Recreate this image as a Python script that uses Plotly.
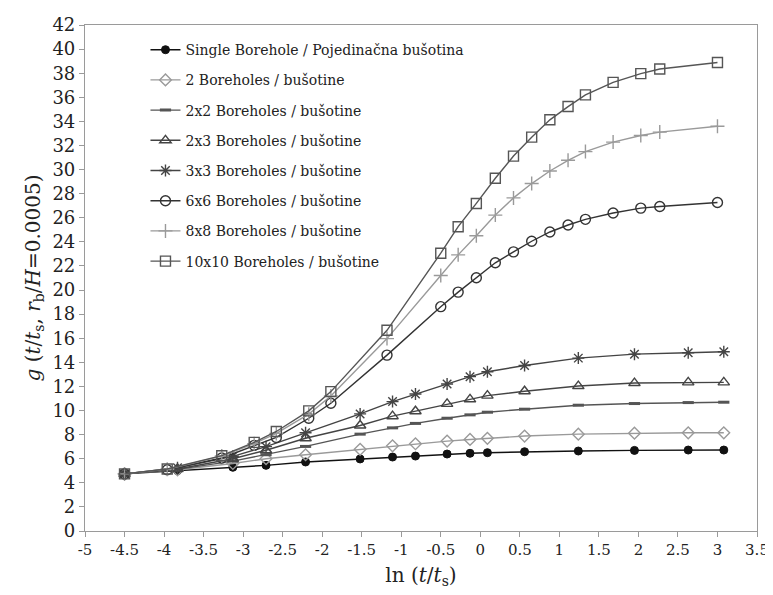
import plotly.graph_objects as go

# x values (ln(t/ts)) for the smaller fields
x_small = [-4.5, -3.83, -3.13, -2.71, -2.21, -1.52, -1.11, -0.82, -0.42, -0.13, 0.09, 0.56, 1.24, 1.95, 2.63, 3.08]
# x values for the larger fields
x_large = [-4.5, -3.96, -3.27, -2.86, -2.58, -2.17, -1.89, -1.18, -0.5, -0.28, -0.05, 0.19, 0.42, 0.65, 0.88, 1.11, 1.33, 1.68, 2.03, 2.27, 3.0]

g_single = [4.74, 5.01, 5.29, 5.45, 5.73, 5.98, 6.14, 6.22, 6.39, 6.45, 6.50, 6.58, 6.64, 6.69, 6.72, 6.72]
g_2 = [4.74, 5.08, 5.60, 6.00, 6.33, 6.78, 7.07, 7.24, 7.46, 7.60, 7.69, 7.88, 8.04, 8.12, 8.15, 8.15]
g_2x2 = [4.74, 5.12, 5.80, 6.33, 7.02, 8.04, 8.56, 8.93, 9.36, 9.64, 9.86, 10.11, 10.44, 10.58, 10.66, 10.69]
g_2x3 = [4.74, 5.15, 6.00, 6.70, 7.70, 8.76, 9.53, 9.94, 10.55, 10.93, 11.24, 11.60, 12.03, 12.28, 12.34, 12.34]
g_3x3 = [4.74, 5.25, 6.20, 7.00, 8.15, 9.72, 10.74, 11.37, 12.20, 12.81, 13.22, 13.74, 14.35, 14.68, 14.79, 14.88]
g_6x6 = [4.74, 5.09, 6.06, 7.11, 7.77, 9.36, 10.60, 14.60, 18.62, 19.83, 21.02, 22.26, 23.17, 24.05, 24.82, 25.40, 25.87, 26.39, 26.80, 26.94, 27.27]
g_8x8 = [4.74, 5.12, 6.22, 7.25, 8.10, 9.70, 11.20, 15.97, 21.21, 22.92, 24.51, 26.22, 27.65, 28.84, 29.88, 30.77, 31.49, 32.28, 32.83, 33.11, 33.60]
g_10x10 = [4.74, 5.15, 6.25, 7.36, 8.26, 9.97, 11.57, 16.66, 23.06, 25.26, 27.19, 29.28, 31.12, 32.69, 34.13, 35.23, 36.20, 37.24, 37.96, 38.35, 38.89]

names = [
    "Single Borehole / Pojedinačna bušotina",
    "2 Boreholes / bušotine",
    "2x2 Boreholes / bušotine",
    "2x3 Boreholes / bušotine",
    "3x3 Boreholes / bušotine",
    "6x6 Boreholes / bušotine",
    "8x8 Boreholes / bušotine",
    "10x10 Boreholes / bušotine",
]

x_tick_vals = [-5, -4.5, -4, -3.5, -3, -2.5, -2, -1.5, -1, -0.5, 0, 0.5, 1, 1.5, 2, 2.5, 3, 3.5]
y_tick_vals = list(range(0, 43, 2))

# (x, y, line colour, marker symbol, marker size, marker line width)
series = [
    (x_small, g_single, "#111111", "circle", 8, 1),
    (x_small, g_2, "#9a9a9a", "diamond-open", 9, 1.4),
    (x_small, g_2x2, "#555555", "line-ew-open", 8, 3),
    (x_small, g_2x3, "#444444", "triangle-up-open", 10, 1.4),
    (x_small, g_3x3, "#444444", "asterisk-open", 10, 1.4),
    (x_large, g_6x6, "#333333", "circle-open", 10, 1.4),
    (x_large, g_8x8, "#9a9a9a", "cross-thin-open", 10, 1.4),
    (x_large, g_10x10, "#555555", "square-open", 10, 1.4),
]

fig = go.Figure()
for i, (xs, ys, col, sym, size, mlw) in enumerate(series):
    fig.add_trace(go.Scatter(
        x=xs, y=ys, name=names[i], mode="lines+markers",
        line=dict(color=col, width=1.4),
        marker=dict(symbol=sym, size=size, color=col,
                    line=dict(color=col, width=mlw)),
        legendgroup=f"g{i}",
    ))

font_family = "DejaVu Serif"
fig.update_layout(
    width=773, height=595,
    margin=dict(l=77, r=24, t=17, b=72, autoexpand=False),
    paper_bgcolor="white", plot_bgcolor="white",
    font=dict(family=font_family, size=16, color="#222222"),
    showlegend=True,
    legend=dict(
        x=0.09, y=0.982, xanchor="left", yanchor="top",
        bgcolor="rgba(0,0,0,0)", borderwidth=0,
        font=dict(family=font_family, size=14, color="#222222"),
        tracegroupgap=9,
    ),
)
fig.update_xaxes(
    range=[-5, 3.5], tickvals=x_tick_vals,
    ticktext=[f"{v:g}" for v in x_tick_vals],
    tickfont=dict(size=15), automargin=False,
    showgrid=False, zeroline=False,
    showline=True, linecolor="#9a9a9a", linewidth=1.2, mirror=True,
    ticks="outside", ticklen=5, tickcolor="#9a9a9a",
    title=dict(text="ln (<i>t</i>/<i>t</i><sub>s</sub>)", font=dict(size=20), standoff=9),
)
fig.update_yaxes(
    range=[0, 42], tickvals=y_tick_vals,
    tickfont=dict(size=18), automargin=False,
    showgrid=False, zeroline=False,
    showline=True, linecolor="#9a9a9a", linewidth=1.2, mirror=True,
    ticks="outside", ticklen=5, tickcolor="#9a9a9a",
    title=dict(text="<i>g</i> (<i>t</i>/<i>t</i><sub>s</sub>, <i>r</i><sub>b</sub>/<i>H</i>=0.0005)",
               font=dict(size=20), standoff=6),
)

fig.write_html("out.html")
